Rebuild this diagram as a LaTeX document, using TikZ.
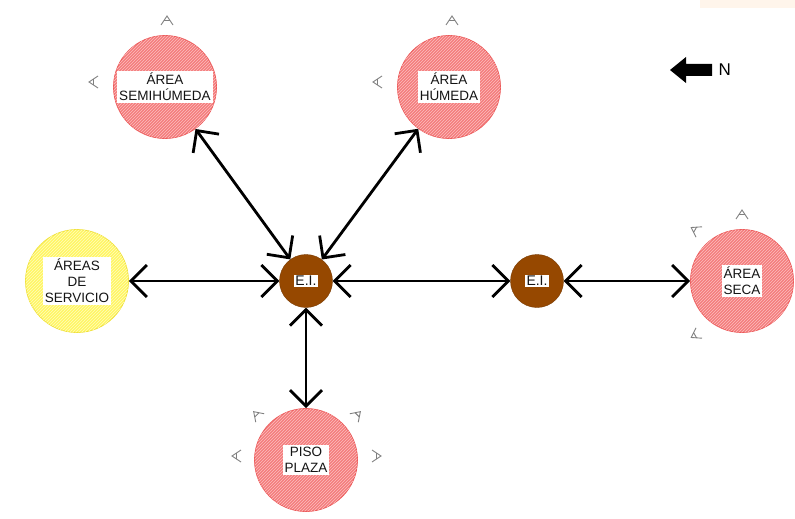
\documentclass[tikz,border=0pt]{standalone}
\usepackage{fontspec}
\setmainfont{Liberation Sans}
\usepackage{tikz}
\usetikzlibrary{arrows.meta,patterns}

\definecolor{rojozona}{RGB}{244,125,125}
\definecolor{rojoraya}{RGB}{252,190,190}
\definecolor{rojoborde}{RGB}{236,90,90}
\definecolor{amarillozona}{RGB}{255,246,100}
\definecolor{amarilloraya}{RGB}{255,252,190}
\definecolor{amarilloborde}{RGB}{240,225,60}
\definecolor{cafe}{RGB}{150,72,0}

\tikzset{
  zona/.style={circle, minimum size=103pt, inner sep=0pt, draw=rojoborde, line width=0.8pt,
    fill=rojozona, postaction={pattern=north east lines, pattern color=rojoraya}},
  zonaY/.style={circle, minimum size=103pt, inner sep=0pt, draw=amarilloborde, line width=0.8pt,
    fill=amarillozona, postaction={pattern=north east lines, pattern color=amarilloraya}},
  ei/.style={circle, minimum size=53pt, inner sep=0pt, draw=cafe!80!black, fill=cafe},
  etiqueta/.style={fill=white, inner xsep=2pt, inner ysep=2.5pt, align=center,
    font=\fontsize{13.5}{16}\selectfont, text=black!92},
  flecha/.style={{Straight Barb[length=16pt,width=32pt]}-{Straight Barb[length=16pt,width=32pt]},
    line width=2.8pt},
  vista/.pic={\draw[black!50, line width=0.9pt] (-6,0) -- (0,-9) -- (6,0) (-3,-4.5) -- (3,-4.5);}
}

\begin{document}
\begin{tikzpicture}[x=1pt, y=-1pt]
    \useasboundingbox (0,0) rectangle (795,519);
    \fill[orange!8] (700,0) rectangle (795,8);

    % zonas
    \node[zona] (semihumeda) at (165,87) {};
    \node[etiqueta] (semihumeda-t) at (semihumeda) {ÁREA\\SEMIHÚMEDA};
    \node[zona] (humeda) at (449,87) {};
    \node[etiqueta] (humeda-t) at (humeda) {ÁREA\\HÚMEDA};
    \node[zonaY] (servicio) at (77,281) {};
    \node[etiqueta] (servicio-t) at (servicio) {ÁREAS\\DE\\SERVICIO};
    \node[zona] (seca) at (742,281) {};
    \node[etiqueta] (seca-t) at (seca) {ÁREA\\SECA};
    \node[zona] (plaza) at (306,460) {};
    \node[etiqueta] (plaza-t) at (plaza) {PISO\\PLAZA};

    \node[ei] (ei1) at (306,281) {};
    \node[etiqueta, inner sep=1.5pt, font=\fontsize{14}{16}\selectfont] (ei1-t) at (ei1) {E.I.};
    \node[ei] (ei2) at (537,281) {};
    \node[etiqueta, inner sep=1.5pt, font=\fontsize{14}{16}\selectfont] (ei2-t) at (ei2) {E.I.};

    % conexiones
    \draw[flecha] (ei1) -- (semihumeda);
    \draw[flecha] (ei1) -- (humeda);
    \draw[flecha] (ei1) -- (servicio);
    \draw[flecha] (ei1) -- (ei2);
    \draw[flecha] (ei2) -- (seca);
    \draw[flecha] (ei1) -- (plaza);

    % vistas
    \pic at (167,25) {vista};
    \pic[rotate=90] at (98,82) {vista};
    \pic at (452,25) {vista};
    \pic[rotate=90] at (382,82) {vista};
    \pic at (742,219) {vista};
    \pic[rotate=60] at (699,232) {vista};
    \pic[rotate=120] at (699,333) {vista};
    \pic[rotate=45] at (260,418) {vista};
    \pic[rotate=-45] at (354,418) {vista};
    \pic[rotate=90] at (241,456) {vista};
    \pic[rotate=-90] at (372,456) {vista};

    % norte
    \fill (670,70) -- (686,57) -- (686,64) -- (712,64) -- (712,76) -- (686,76) -- (686,83) -- cycle;
    \node[font=\fontsize{17}{20}\selectfont, anchor=west] (norte) at (715,70) {N};
\end{tikzpicture}
\end{document}
